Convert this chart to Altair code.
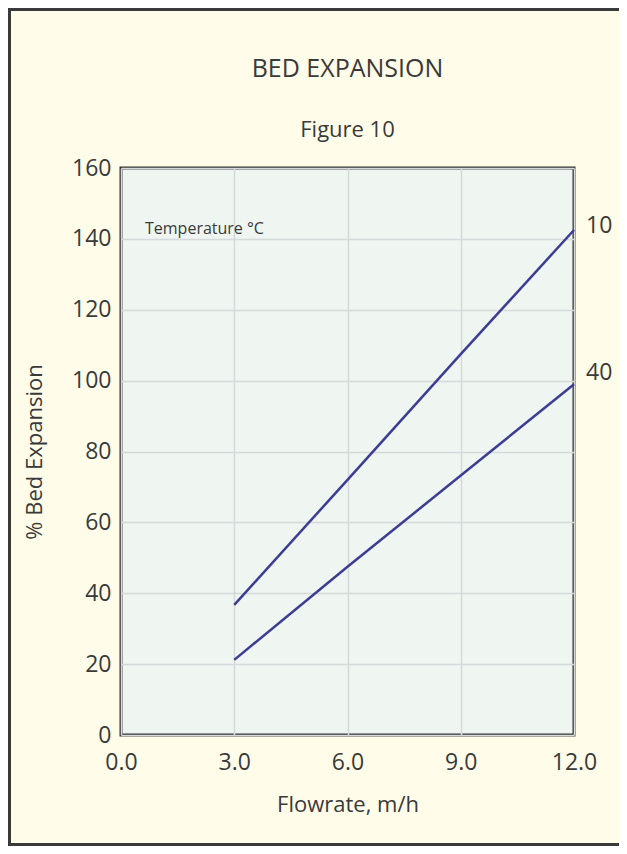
import altair as alt
import pandas as pd

# ---- data ----
flowrate = [3.0, 6.0, 9.0, 12.0]
expansion_10c = [36.7, 72.0, 107.5, 142.5]
expansion_40c = [21.2, 47.5, 73.2, 99.0]
temperatures = ["10", "40"]
x_tick_values = [0, 3, 6, 9, 12]
y_tick_values = [0, 20, 40, 60, 80, 100, 120, 140, 160]
title_text = "BED EXPANSION"
subtitle_text = "Figure 10"
note_text = "Temperature °C"

df = pd.DataFrame({
    "flow": flowrate * 2,
    "expansion": expansion_10c + expansion_40c,
    "temp": [temperatures[0]] * len(flowrate) + [temperatures[1]] * len(flowrate),
})

FONT = "Open Sans"
TXT = "#3a3a3a"
LINE = "#3c3d93"
W, H = 453, 567

x_enc = alt.X(
    "flow:Q",
    scale=alt.Scale(domain=[0, 12], nice=False),
    axis=alt.Axis(values=x_tick_values, format=".1f", title="Flowrate, m/h",
                  labelPadding=16, titlePadding=20),
)
y_enc = alt.Y(
    "expansion:Q",
    scale=alt.Scale(domain=[0, 160], nice=False),
    axis=alt.Axis(values=y_tick_values, title="% Bed Expansion",
                  labelPadding=10, titlePadding=25),
)

base = alt.Chart(df)

lines = base.mark_line(color=LINE, strokeWidth=2.5).encode(
    x=x_enc, y=y_enc, detail="temp:N"
)

label10 = base.transform_filter(
    (alt.datum.temp == temperatures[0]) & (alt.datum.flow == 12)
).mark_text(align="left", baseline="middle", dx=12, dy=-4, font=FONT,
            fontSize=23, color=TXT).encode(x="flow:Q", y="expansion:Q", text="temp:N")

label40 = base.transform_filter(
    (alt.datum.temp == temperatures[1]) & (alt.datum.flow == 12)
).mark_text(align="left", baseline="middle", dx=12, dy=-11, font=FONT,
            fontSize=23, color=TXT).encode(x="flow:Q", y="expansion:Q", text="temp:N")

texts = alt.Data(values=[{"title": title_text, "sub": subtitle_text, "note": note_text}])

title_mark = alt.Chart(texts).mark_text(
    align="center", baseline="alphabetic", font=FONT, fontSize=25, color=TXT
).encode(x=alt.value(W / 2), y=alt.value(-91), text="title:N")

subtitle_mark = alt.Chart(texts).mark_text(
    align="center", baseline="alphabetic", font=FONT, fontSize=22, color=TXT
).encode(x=alt.value(W / 2), y=alt.value(-31), text="sub:N")

temp_note = alt.Chart(texts).mark_text(
    align="left", baseline="middle", font=FONT, fontSize=16, color=TXT
).encode(x=alt.value(24), y=alt.value(61), text="note:N")

frame = alt.Chart(alt.Data(values=[{"a": 1}])).mark_rect(
    fill=None, stroke="#3a3a3a", strokeWidth=3
).encode(
    x=alt.value(-111.5), x2=alt.value(W + 80),
    y=alt.value(-158.5), y2=alt.value(H + 109.5),
)

chart = alt.layer(frame, lines, label10, label40, temp_note, title_mark, subtitle_mark).properties(
    width=W,
    height=H,
    autosize=alt.AutoSizeParams(type="none"),
    padding={"left": 113, "top": 160, "right": 45, "bottom": 111},
    background="#fffde9",
).configure_view(
    fill="#eff5f0", stroke="#333333", strokeWidth=3
).configure_axis(
    labelFont=FONT, labelFontSize=23, labelColor=TXT, labelFlush=False,
    titleFont=FONT, titleFontSize=22, titleFontWeight="normal", titleColor=TXT,
    grid=True, gridColor="#d6d9db", gridWidth=1.5,
    domain=False, ticks=False,
)

chart.save("out.html", embed_options={"renderer": "svg", "actions": False})
